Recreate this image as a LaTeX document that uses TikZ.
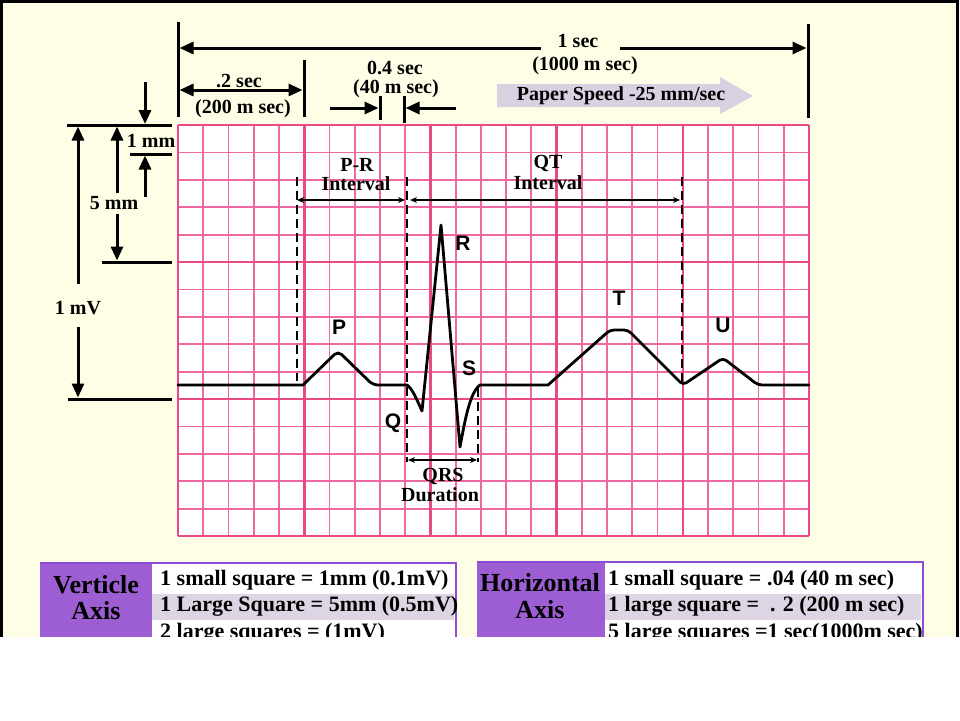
\documentclass[tikz,border=0pt]{standalone}
\usepackage{fontspec}
\setmainfont{Liberation Serif}
\newfontfamily\lblfont{Liberation Sans}
\usetikzlibrary{arrows.meta}
\definecolor{bgcream}{HTML}{FEFDE6}
\definecolor{gridmaj}{HTML}{E94A86}
\definecolor{gridmin}{HTML}{F0689F}
\definecolor{hdrpurple}{HTML}{9D5ED4}
\definecolor{bordpurple}{HTML}{8D4BD6}
\definecolor{bandlav}{HTML}{DDD5E3}
\definecolor{speedlav}{HTML}{D9D0E2}
\begin{document}
\begin{tikzpicture}[x=1pt,y=-1pt,
  txt/.style={font=\bfseries\fontsize{20}{22}\selectfont, inner sep=0pt},
  rowtxt/.style={font=\bfseries\fontsize{22}{24}\selectfont, inner sep=0pt, anchor=west},
  hdrtxt/.style={font=\bfseries\fontsize{26}{28}\selectfont, inner sep=0pt},
  wlbl/.style={font=\lblfont\bfseries\fontsize{21}{23}\selectfont, inner sep=0pt},
  dimarrow/.style={line width=3pt, -{Triangle[length=14pt,width=12pt]}},
  dimboth/.style={line width=3pt, {Triangle[length=14pt,width=12pt]}-{Triangle[length=14pt,width=12pt]}},
  dimtick/.style={line width=3pt},
  ivl/.style={line width=1.6pt, {Stealth[length=7pt,width=6pt]}-{Stealth[length=7pt,width=6pt]}},
  dashv/.style={line width=2.4pt, dash pattern=on 9pt off 5pt},
  minorline/.style={gridmin, line width=1.8pt},
  majorline/.style={gridmaj, line width=2.6pt},
  wave/.style={line width=2.8pt, line join=round, line cap=round}
]
\useasboundingbox (0,0) rectangle (960,720);
\fill[white] (0,0) rectangle (960,720);
\fill[bgcream] (0,0) rectangle (958,637);

% ---------- grid ----------
\fill[white] (178,125) rectangle (809,536);
\foreach \i in {0,...,25}
  \draw[minorline] ({178+\i*25.24},125) -- ({178+\i*25.24},536);
\foreach \j in {0,...,15}
  \draw[minorline] (178,{125+\j*27.4}) -- (809,{125+\j*27.4});
\foreach \i in {0,5,...,25}
  \draw[majorline] ({178+\i*25.24},125) -- ({178+\i*25.24},536);
\foreach \j in {0,5,...,15}
  \draw[majorline] (178,{125+\j*27.4}) -- (809,{125+\j*27.4});

% ---------- ECG trace ----------
\draw[wave] (178,385) -- (303,385)
  [rounded corners=5pt] -- (338,351) -- (373,385) [sharp corners]
  -- (407,385) .. controls (412,388) and (417,400) .. (422,411)
  -- (441,225) -- (460,447) .. controls (465,420) and (470,392) .. (480,385)
  -- (548,385) [rounded corners=4pt] -- (610,330) -- (628,330) -- (683,385) -- (723,358) -- (758,385) [sharp corners]
  -- (809,385);

% ---------- dashed markers ----------
\coordinate (dA1) at (297,177); \coordinate (dA2) at (297,381);
\coordinate (dB1) at (407,177); \coordinate (dB2) at (407,462);
\coordinate (dC1) at (478,388); \coordinate (dC2) at (478,462);
\coordinate (dD1) at (682,177); \coordinate (dD2) at (682,383);
\draw[dashv] (dA1) -- (dA2);
\draw[dashv] (dB1) -- (dB2);
\draw[dashv] (dC1) -- (dC2);
\draw[dashv] (dD1) -- (dD2);

% interval arrows
\coordinate (prL) at (297,200); \coordinate (prR) at (405,200);
\coordinate (qtL) at (410,200); \coordinate (qtR) at (680,200);
\coordinate (qrsL) at (408,460); \coordinate (qrsR) at (477,460);
\draw[ivl] (prL) -- (prR);
\draw[ivl] (qtL) -- (qtR);
\draw[ivl] (qrsL) -- (qrsR);

\node[txt] (prA) at (357,165) {P-R};
\node[txt] (prB) at (356,184) {Interval};
\node[txt] (qtA) at (548,163) {QT};
\node[txt] (qtB) at (548,183) {Interval};
\node[txt] (qrsA) at (443,476) {QRS};
\node[txt] (qrsB) at (440,495) {Duration};

% wave letters
\node[wlbl] (lP) at (339,327) {P};
\node[wlbl] (lQ) at (393,423) {Q};
\node[wlbl] (lR) at (463,243) {R};
\node[wlbl] (lS) at (469,368) {S};
\node[wlbl] (lT) at (619,298) {T};
\node[wlbl] (lU) at (723,325) {U};

% ---------- top dimensions ----------
\coordinate (tkA1) at (178,22);  \coordinate (tkA2) at (178,117);
\coordinate (tkB1) at (304,60);  \coordinate (tkB2) at (304,117);
\coordinate (tkC1) at (808,24);  \coordinate (tkC2) at (808,118);
\coordinate (tkD1) at (380,96);  \coordinate (tkD2) at (380,120);
\coordinate (tkE1) at (404,96);  \coordinate (tkE2) at (404,123);
\draw[dimtick] (tkA1) -- (tkA2);
\draw[dimtick] (tkB1) -- (tkB2);
\draw[dimtick] (tkC1) -- (tkC2);
\draw[dimtick] (tkD1) -- (tkD2);
\draw[dimtick] (tkE1) -- (tkE2);

\node[txt] (onesec) at (578,41) {1 sec};
\node[txt] (onesecms) at (585,66) {(1000 m sec)};
\coordinate (secL) at (179.5,48); \coordinate (secR) at (806.5,48);
\coordinate (secGL) at (541,48); \coordinate (secGR) at (620,48);
\draw[dimarrow] (secGL) -- (secL);
\draw[dimarrow] (secGR) -- (secR);

\coordinate (twoL) at (179.5,90); \coordinate (twoR) at (302.5,90);
\draw[dimboth] (twoL) -- (twoR);
\node[txt] (twosec) at (239,81) {.2 sec};
\node[txt] (twosecms) at (243,109) {(200 m sec)};

\node[txt] (fsec) at (395,68) {0.4 sec};
\node[txt] (fsecms) at (396,89) {(40 m sec)};
\coordinate (fA) at (330,108); \coordinate (fAt) at (378.5,108);
\coordinate (fB) at (456,108); \coordinate (fBt) at (405.5,108);
\draw[dimarrow] (fA) -- (fAt);
\draw[dimarrow] (fB) -- (fBt);

% paper speed arrow
\fill[speedlav] (497,84) -- (720,84) -- (720,77) -- (753,96) -- (720,114) -- (720,107) -- (497,107) -- cycle;
\node[txt] (speed) at (621,96) {Paper Speed -25 mm/sec};

% ---------- left dimensions ----------
\coordinate (hA1) at (67,125);  \coordinate (hA2) at (172,125);
\coordinate (hB1) at (130,154); \coordinate (hB2) at (172,154);
\coordinate (hC1) at (102,262); \coordinate (hC2) at (172,262);
\coordinate (hD1) at (68,399);  \coordinate (hD2) at (172,399);
\draw[dimtick] (hA1) -- (hA2);
\draw[dimtick] (hB1) -- (hB2);
\draw[dimtick] (hC1) -- (hC2);
\draw[dimtick] (hD1) -- (hD2);

\node[txt] (onemm) at (151,141) {1 mm};
\coordinate (mmA) at (145,82);  \coordinate (mmAt) at (145,124);
\coordinate (mmB) at (145,197); \coordinate (mmBt) at (145,155.5);
\draw[dimarrow] (mmA) -- (mmAt);
\draw[dimarrow] (mmB) -- (mmBt);

\node[txt] (fivemm) at (114,203) {5 mm};
\coordinate (fvA) at (117,193); \coordinate (fvAt) at (117,126.5);
\coordinate (fvB) at (117,214); \coordinate (fvBt) at (117,260.5);
\draw[dimarrow] (fvA) -- (fvAt);
\draw[dimarrow] (fvB) -- (fvBt);

\node[txt] (onemv) at (78,308) {1 mV};
\coordinate (mvA) at (78,284); \coordinate (mvAt) at (78,126.5);
\coordinate (mvB) at (78,327); \coordinate (mvBt) at (78,397.5);
\draw[dimarrow] (mvA) -- (mvAt);
\draw[dimarrow] (mvB) -- (mvBt);

% ---------- tables ----------
\fill[hdrpurple] (40,563) rectangle (152,645);
\fill[white] (152,563) rectangle (456,645);
\fill[bandlav] (152,594) rectangle (454,620);
\draw[bordpurple, line width=2.5pt] (40,563) -- (456,563) -- (456,645);
\node[hdrtxt] (vA) at (96,585) {Verticle};
\node[hdrtxt] (vB) at (96,611) {Axis};
\node[rowtxt] (v1) at (160,580) {1 small square = 1mm (0.1mV)};
\node[rowtxt] (v2) at (160,606) {1 Large Square = 5mm (0.5mV)};
\node[rowtxt] (v3) at (160,633) {2 large squares = (1mV)};

\fill[hdrpurple] (477,562) rectangle (605,645);
\fill[white] (605,562) rectangle (923,645);
\fill[bandlav] (605,594) rectangle (921,620);
\draw[bordpurple, line width=2.5pt] (477,562) -- (923,562) -- (923,645);
\node[hdrtxt] (hA) at (540,583) {Horizontal};
\node[hdrtxt] (hB) at (540,610) {Axis};
\node[rowtxt] (h1) at (608,580) {1 small square = .04 (40 m sec)};
\node[rowtxt] (h2) at (608,606) {1 large square = \ . 2 (200 m sec)};
\node[rowtxt] (h3) at (608,633) {5 large squares =1 sec(1000m sec)};

% cut-off of the slide
\fill[white] (0,637) rectangle (960,720);
\draw[black, line width=3pt] (1.5,637) -- (1.5,1) -- (957,1) -- (957,637);
\end{tikzpicture}
\end{document}
